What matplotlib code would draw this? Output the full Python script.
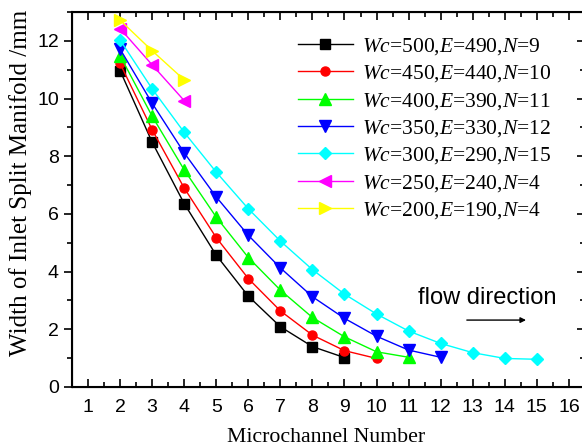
import numpy as np
import matplotlib
matplotlib.use("Agg")
import matplotlib.pyplot as plt
from matplotlib.ticker import MultipleLocator

# values
x_500 = [2, 3, 4, 5, 6, 7, 8, 9]
y_500 = [10.97, 8.49, 6.36, 4.57, 3.15, 2.09, 1.40, 1.02]
x_450 = [2, 3, 4, 5, 6, 7, 8, 9, 10]
y_450 = [11.22, 8.92, 6.90, 5.18, 3.76, 2.64, 1.80, 1.26, 0.99]
x_400 = [2, 3, 4, 5, 6, 7, 8, 9, 10, 11]
y_400 = [11.49, 9.39, 7.53, 5.89, 4.49, 3.36, 2.41, 1.74, 1.22, 1.03]
x_350 = [2, 3, 4, 5, 6, 7, 8, 9, 10, 11, 12]
y_350 = [11.72, 9.84, 8.12, 6.59, 5.26, 4.13, 3.13, 2.38, 1.76, 1.28, 1.03]
x_300 = [2, 3, 4, 5, 6, 7, 8, 9, 10, 11, 12, 13, 14, 15]
y_300 = [12.03, 10.34, 8.83, 7.45, 6.18, 5.06, 4.07, 3.22, 2.53, 1.94, 1.51, 1.19, 0.99, 0.96]
x_250 = [2, 3, 4]
y_250 = [12.43, 11.17, 9.93]
x_200 = [2, 3, 4]
y_200 = [12.72, 11.66, 10.65]

labels = [
    r"$\mathit{Wc}$=500,$\mathit{E}$=490,$\mathit{N}$=9",
    r"$\mathit{Wc}$=450,$\mathit{E}$=440,$\mathit{N}$=10",
    r"$\mathit{Wc}$=400,$\mathit{E}$=390,$\mathit{N}$=11",
    r"$\mathit{Wc}$=350,$\mathit{E}$=330,$\mathit{N}$=12",
    r"$\mathit{Wc}$=300,$\mathit{E}$=290,$\mathit{N}$=15",
    r"$\mathit{Wc}$=250,$\mathit{E}$=240,$\mathit{N}$=4",
    r"$\mathit{Wc}$=200,$\mathit{E}$=190,$\mathit{N}$=4",
]

plt.rcParams['mathtext.fontset'] = 'custom'
plt.rcParams['mathtext.rm'] = 'Liberation Serif'
plt.rcParams['mathtext.it'] = 'Liberation Serif:italic'

series = [
    (x_500, y_500, 'black', 's'),
    (x_450, y_450, 'red', 'o'),
    (x_400, y_400, '#00ff00', '^'),
    (x_350, y_350, '#0000ff', 'v'),
    (x_300, y_300, '#00ffff', 'D'),
    (x_250, y_250, '#ff00ff', '<'),
    (x_200, y_200, '#ffff00', '>'),
]

fig = plt.figure(figsize=(5.82, 4.48), dpi=100)
ax = fig.add_axes([0.1237, 0.1362, 0.8813, 0.8368])

for (xs, ys, col, mk), lab in zip(series, labels):
    ms = 6.5 if mk in ('s', 'o', 'D') else 8
    ax.plot(xs, ys, color=col, marker=mk, markersize=ms, lw=1.0,
            markeredgecolor=col, label=lab)

ax.set_xlim(0.5, 16.5)
ax.set_ylim(0, 13)
ax.xaxis.set_major_locator(MultipleLocator(1))
ax.xaxis.set_minor_locator(MultipleLocator(0.5))
ax.yaxis.set_major_locator(MultipleLocator(2))
ax.yaxis.set_minor_locator(MultipleLocator(1))

ax.tick_params(axis='x', which='both', direction='in', top=True, bottom=True)
ax.tick_params(axis='x', which='major', pad=8.5)
ax.tick_params(axis='y', which='both', left=True, right=False, direction='out')
ax.tick_params(which='major', length=6, width=1.2)
ax.tick_params(which='minor', length=3.5, width=1.2)
for sp in ax.spines.values():
    sp.set_linewidth(1.5)

# inward ticks along the right edge
ax2 = ax.twinx()
ax2.set_ylim(ax.get_ylim())
ax2.yaxis.set_major_locator(MultipleLocator(2))
ax2.yaxis.set_minor_locator(MultipleLocator(1))
ax2.tick_params(axis='y', which='both', direction='in', labelright=False)
ax2.tick_params(which='major', length=6, width=1.2)
ax2.tick_params(which='minor', length=3.5, width=1.2)

for lbl in ax.get_xticklabels() + ax.get_yticklabels():
    lbl.set_fontfamily('Liberation Sans')
    lbl.set_fontsize(14)

ax.set_xlabel('Microchannel Number', family='Liberation Serif', fontsize=15.7)
ax.set_ylabel('Width of Inlet Split Manifold /mm', family='Liberation Serif', fontsize=18)
ax.xaxis.set_label_coords(0.496, -0.135)
ax.xaxis.label.set_va('center')
ax.yaxis.set_label_coords(-0.101, 0.544)
ax.yaxis.label.set_va('center')

ax.text(13.45, 3.08, 'flow direction', family='Liberation Sans', fontsize=17,
        ha='center', va='center')
ax.annotate('', xy=(14.75, 2.32), xytext=(12.73, 2.32),
            arrowprops=dict(arrowstyle='-|>', color='black', lw=1.0, mutation_scale=8))

ax.legend(loc='upper left', bbox_to_anchor=(0.44, 0.936), frameon=False,
          prop={'family': 'Liberation Serif', 'size': 15.5},
          handlelength=2.56, handletextpad=0.42, labelspacing=0.30,
          borderpad=0, borderaxespad=0)

fig.savefig('out.png', dpi=100)
